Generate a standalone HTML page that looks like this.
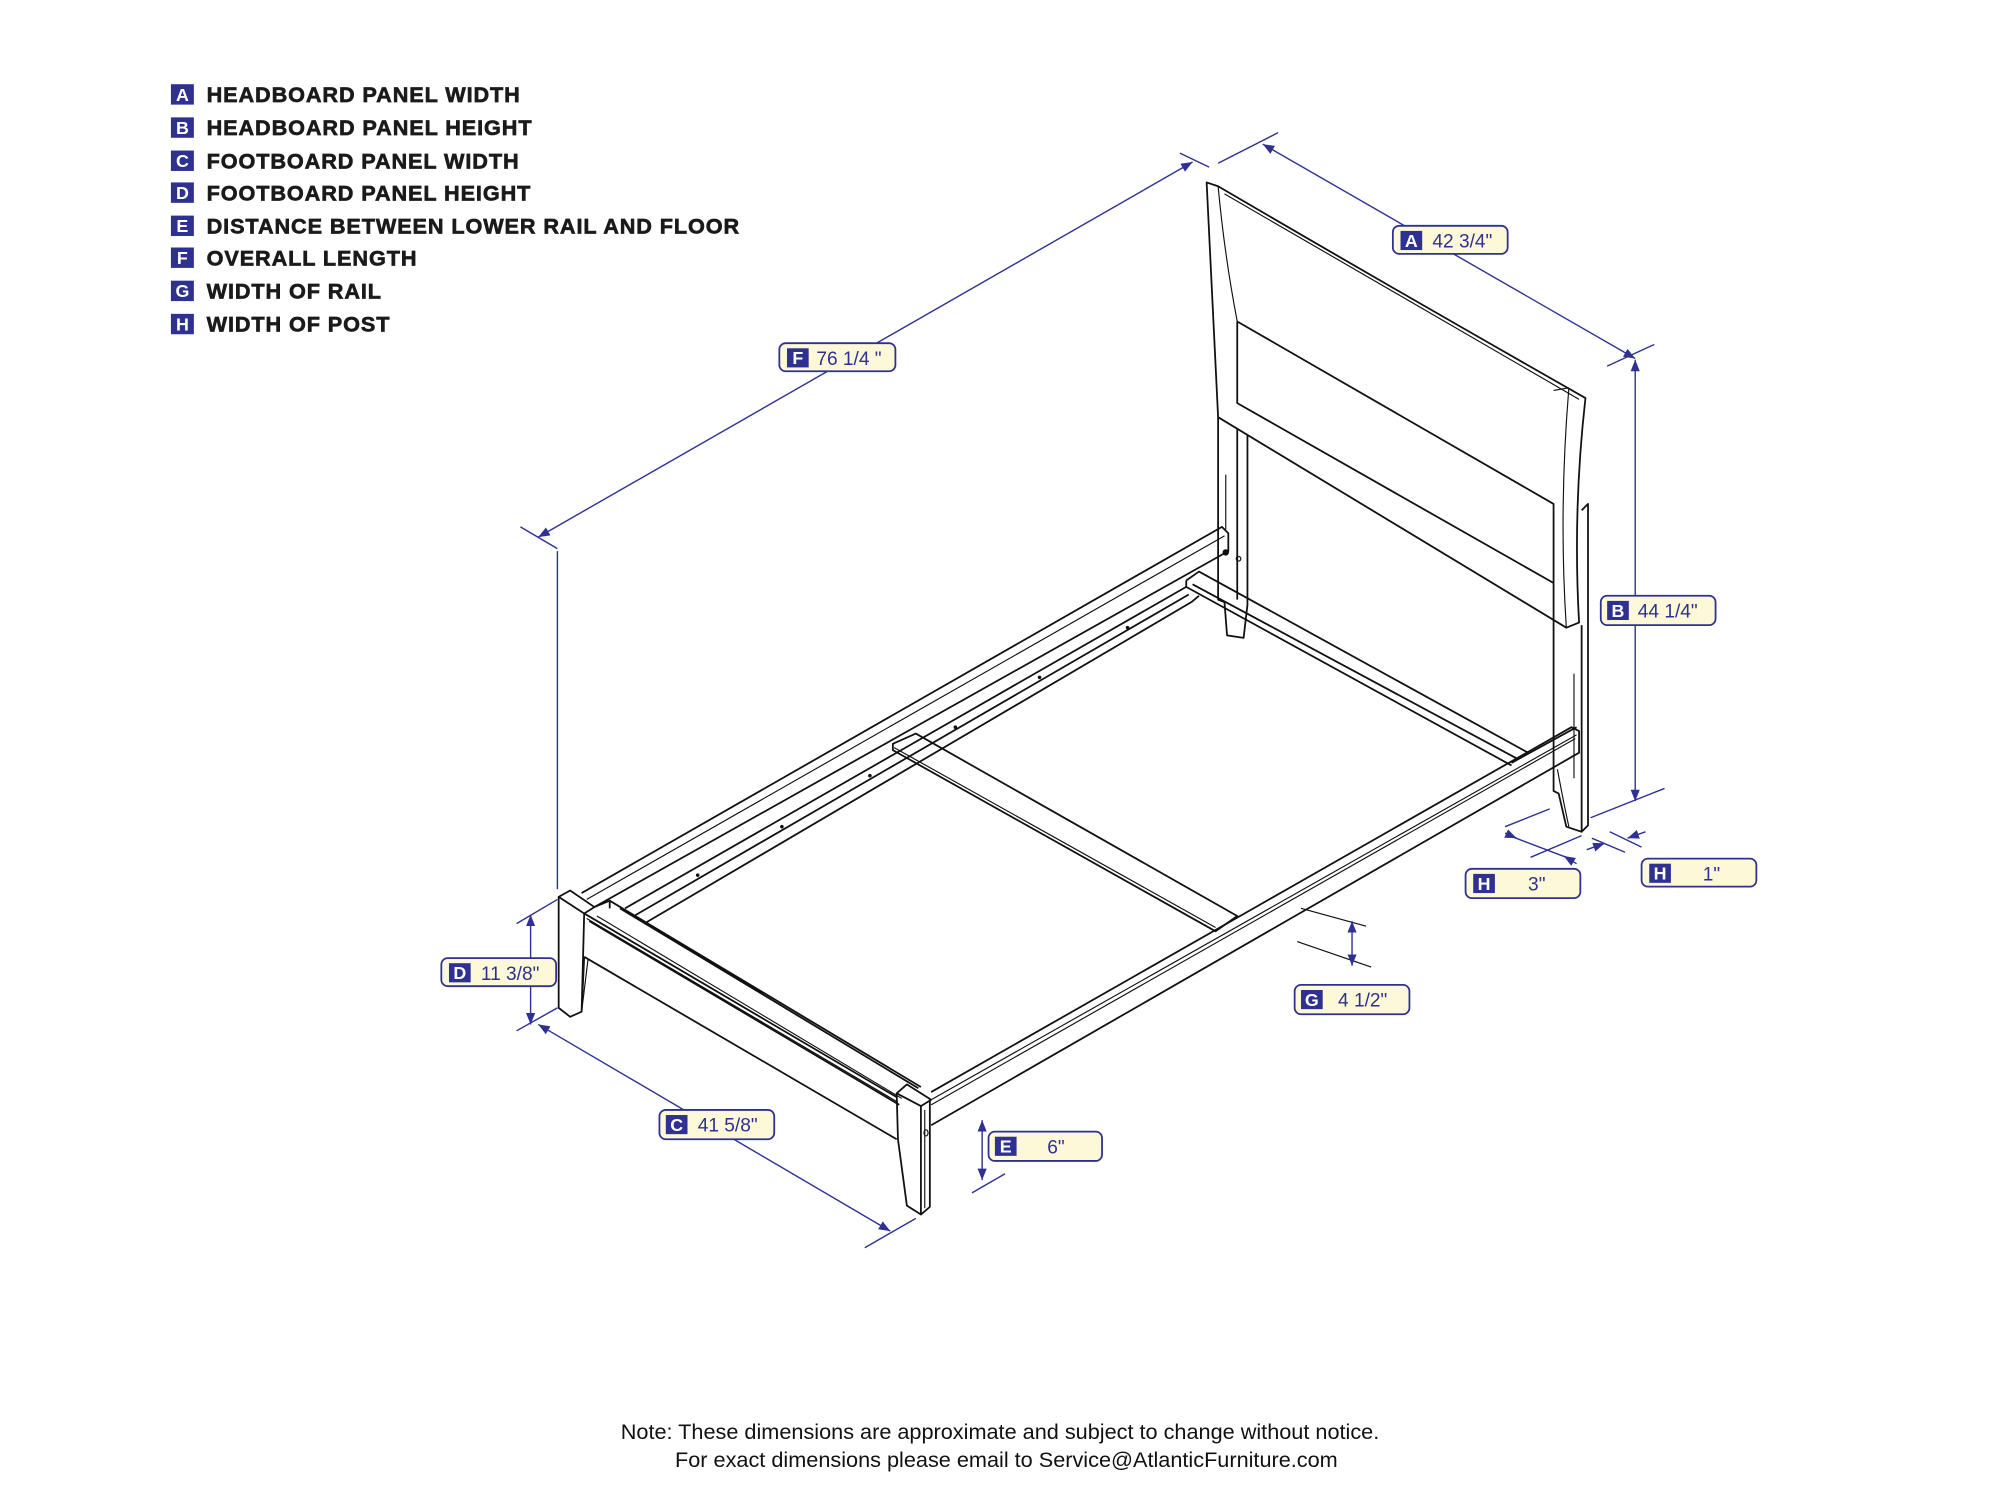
<!DOCTYPE html>
<html><head><meta charset="utf-8"><style>
html,body{margin:0;padding:0;background:#fff;width:2000px;height:1485px;overflow:hidden}
svg{display:block}
.l{fill:none;stroke:#111;stroke-width:1.4;stroke-linejoin:round}
.t{fill:none;stroke:#111;stroke-width:0.9}
.d{fill:none;stroke:#2e3192;stroke-width:1.1}
.leg{font-family:"Liberation Sans",sans-serif;font-weight:bold;font-size:17px;letter-spacing:0.7px;fill:#1a1a1a;stroke:#1a1a1a;stroke-width:0.5}
.lb{fill:#fdf8d8;stroke:#2e3192;stroke-width:1.4}
.lt{font-family:"Liberation Sans",sans-serif;font-size:15px;fill:#2e3192}
.sq{fill:#2e3192}
.sl{font-family:"Liberation Sans",sans-serif;font-weight:bold;font-size:14px;fill:#fff}
.note{font-family:"Liberation Sans",sans-serif;font-size:17px;fill:#111}
</style></head><body>
<svg width="2000" height="1485" viewBox="0 0 1568 1164" preserveAspectRatio="none" xmlns="http://www.w3.org/2000/svg">
<defs>
<marker id="a" viewBox="0 0 10 10" refX="10" refY="5" markerWidth="9" markerHeight="9" orient="auto-start-reverse" markerUnits="userSpaceOnUse"><path d="M0,1 L10,5 L0,9 z" fill="#2e3192"/></marker>
</defs>
<g>
<rect class="sq" x="134" y="66" width="18" height="16"/><text class="sl" x="143" y="79" text-anchor="middle">A</text><text class="leg" x="162" y="80">HEADBOARD PANEL WIDTH</text>
<rect class="sq" x="134" y="92" width="18" height="16"/><text class="sl" x="143" y="105" text-anchor="middle">B</text><text class="leg" x="162" y="106">HEADBOARD PANEL HEIGHT</text>
<rect class="sq" x="134" y="118" width="18" height="16"/><text class="sl" x="143" y="131" text-anchor="middle">C</text><text class="leg" x="162" y="132">FOOTBOARD PANEL WIDTH</text>
<rect class="sq" x="134" y="143" width="18" height="16"/><text class="sl" x="143" y="156" text-anchor="middle">D</text><text class="leg" x="162" y="157">FOOTBOARD PANEL HEIGHT</text>
<rect class="sq" x="134" y="169" width="18" height="16"/><text class="sl" x="143" y="182" text-anchor="middle">E</text><text class="leg" x="162" y="183">DISTANCE BETWEEN LOWER RAIL AND FLOOR</text>
<rect class="sq" x="134" y="194" width="18" height="16"/><text class="sl" x="143" y="207" text-anchor="middle">F</text><text class="leg" x="162" y="208">OVERALL LENGTH</text>
<rect class="sq" x="134" y="220" width="18" height="16"/><text class="sl" x="143" y="233" text-anchor="middle">G</text><text class="leg" x="162" y="234">WIDTH OF RAIL</text>
<rect class="sq" x="134" y="246" width="18" height="16"/><text class="sl" x="143" y="259" text-anchor="middle">H</text><text class="leg" x="162" y="260">WIDTH OF POST</text>
</g>

<g>
<path class="l" d="M946,143 L955,146 Q1090,225 1243,312 Q1233,400 1238,488 L1228,492 L955,327 Q950,230 946,143 Z" fill="#fff"/>
<path class="t" d="M955,146 Q960,200 970,252 M1228,492 Q1222,400 1230,304 M1218,306 L1230,304"/>
<path class="l" d="M970,252 L1218,395 L1218,488 M970,252 L970,316 L1218,457"/>
<path class="t" d="M960,152 Q1090,228 1238,313"/>
<path class="l" d="M955,327 L955,470 L960,472 L962,498 L975,500 L978,474 L978,341"/>
<path class="l" d="M970,336 L970,470"/>
<path class="t" d="M961,372 L961,415"/>
<circle cx="961" cy="433" r="2.5" fill="#111"/><circle cx="971" cy="438" r="1.8" class="t"/>
<path class="l" d="M1218,488 L1218,620 L1222,622 L1228,648 L1240,652 L1240,490"/>
<path class="l" d="M1240,400 L1245,395 L1245,647 L1240,652"/>
<path class="t" d="M1234,528 L1234,610"/>
<path class="l" d="M930,455 L940,448 L1198,590 M930,455 L930,460 L1185,600 M935,458 L1190,595"/>
</g>

<g>
<path class="l" d="M456,700 L958,413 L963,418 L963,432 L466,711"/>
<path class="t" d="M460,705 L960,420"/>
<path class="l" d="M490,712 L930,460 M497,718 L932,466 M505,724 L934,472 L940,467"/>
<circle cx="547" cy="686" r="1.4" fill="#111"/><circle cx="613" cy="648" r="1.4" fill="#111"/><circle cx="682" cy="608" r="1.4" fill="#111"/><circle cx="749" cy="570" r="1.4" fill="#111"/><circle cx="815" cy="531" r="1.4" fill="#111"/><circle cx="884" cy="492" r="1.4" fill="#111"/>
</g>

<path class="l" d="M700,583 L718,575 L970,718 L953,730 L700,588 Z" fill="#fff"/>
<path class="t" d="M701,586 L953,727"/>

<g>
<path class="l" d="M730,856 L1232,570 L1238,573 L1238,590 L730,882"/>
<path class="t" d="M730,862 L1236,576 M730,866 L1235,579"/>
<path class="l" d="M1185,598 L1236,570"/>
<path class="t" d="M1221,603 Q1226,630 1230,648"/>
<path class="t" d="M1020,712 L1071,726 M1017,738 L1075,758"/>
</g>

<g>
<path class="l" d="M466,711 L478,706 L722,852 M458,716 L703,860 M462,722 L705,866 M478,706 L478,712 M486,712 L720,853"/>
<path class="t" d="M460,720 L704,864 M468,718 L707,861"/>
<path class="l" d="M458,750 L703,893"/>
<path class="l" d="M438,703 L447,698 L466,711 L458,716 Z" fill="#fff"/>
<path class="l" d="M438,703 L438,790 L447,797 L456,793 L458,716 M456,793 L458,750"/>
<path class="t" d="M461,752 L456,793"/>
<path class="l" d="M703,857 L711,850 L730,862 L722,867 Z" fill="#fff"/>
<path class="l" d="M703,857 L704,893 L711,945 L722,952 L729,946 L729,862 M722,867 L722,952"/>
<path class="t" d="M725,870 L725,947"/>
<ellipse cx="726" cy="888" rx="1.6" ry="2.4" class="t"/>
</g>

<g>
<path class="d" d="M408,413 L437,430 M925,120 L948,131"/>
<path class="d" d="M422,421 L935,127" marker-start="url(#a)" marker-end="url(#a)"/>
<path class="d" d="M437,432 L437,697"/>
<path class="d" d="M955,128 L1002,104 M1260,287 L1297,270"/>
<path class="d" d="M990,113 L1282,281" marker-start="url(#a)" marker-end="url(#a)"/>
<path class="d" d="M1282,282 L1282,628" marker-start="url(#a)" marker-end="url(#a)"/>
<path class="d" d="M1247,641 L1305,618"/>
<path class="d" d="M1180,648 L1215,634 M1200,672 L1240,655 M1186,656 L1228,672"/>
<path class="d" d="M1180,653 L1189,657" marker-end="url(#a)"/>
<path class="d" d="M1236,677 L1226,671" marker-end="url(#a)"/>
<path class="d" d="M1248,657 L1274,668 M1262,652 L1287,664"/>
<path class="d" d="M1244,666 L1258,661" marker-end="url(#a)"/>
<path class="d" d="M1290,652 L1276,657" marker-end="url(#a)"/>
<path class="d" d="M1060,722 L1060,757" marker-start="url(#a)" marker-end="url(#a)"/>
<path class="d" d="M405,724 L437,705 M405,808 L437,790"/>
<path class="d" d="M416,717 L416,803" marker-start="url(#a)" marker-end="url(#a)"/>
<path class="d" d="M678,978 L718,955"/>
<path class="d" d="M422,803 L698,965" marker-start="url(#a)" marker-end="url(#a)"/>
<path class="d" d="M770,878 L770,925" marker-start="url(#a)" marker-end="url(#a)"/>
<path class="d" d="M762,935 L788,920"/>
</g>

<g>
<rect class="lb" x="611" y="269" width="91" height="22" rx="5"/><rect class="sq" x="617" y="273" width="17" height="15"/><text class="sl" x="625.5" y="285.5" text-anchor="middle">F</text><text class="lt" x="640" y="286">76 1/4 "</text>
<rect class="lb" x="1092" y="177" width="90" height="22" rx="5"/><rect class="sq" x="1098" y="181" width="17" height="15"/><text class="sl" x="1106.5" y="193.5" text-anchor="middle">A</text><text class="lt" x="1123" y="194">42 3/4"</text>
<rect class="lb" x="1255" y="467" width="90" height="23" rx="5"/><rect class="sq" x="1260" y="471" width="17" height="15"/><text class="sl" x="1268.5" y="483.5" text-anchor="middle">B</text><text class="lt" x="1284" y="484">44 1/4"</text>
<rect class="lb" x="1149" y="681" width="90" height="23" rx="5"/><rect class="sq" x="1155" y="685" width="17" height="15"/><text class="sl" x="1163.5" y="697.5" text-anchor="middle">H</text><text class="lt" x="1198" y="698">3"</text>
<rect class="lb" x="1287" y="673" width="90" height="22" rx="5"/><rect class="sq" x="1293" y="677" width="17" height="15"/><text class="sl" x="1301.5" y="689.5" text-anchor="middle">H</text><text class="lt" x="1335" y="690">1"</text>
<rect class="lb" x="1015" y="772" width="90" height="23" rx="5"/><rect class="sq" x="1020" y="776" width="17" height="15"/><text class="sl" x="1028.5" y="788.5" text-anchor="middle">G</text><text class="lt" x="1049" y="789">4 1/2"</text>
<rect class="lb" x="346" y="751" width="90" height="22" rx="5"/><rect class="sq" x="352" y="755" width="17" height="15"/><text class="sl" x="360.5" y="767.5" text-anchor="middle">D</text><text class="lt" x="377" y="768">11 3/8"</text>
<rect class="lb" x="517" y="870" width="90" height="23" rx="5"/><rect class="sq" x="522" y="874" width="17" height="15"/><text class="sl" x="530.5" y="886.5" text-anchor="middle">C</text><text class="lt" x="547" y="887">41 5/8"</text>
<rect class="lb" x="775" y="887" width="89" height="23" rx="5"/><rect class="sq" x="780" y="891" width="17" height="15"/><text class="sl" x="788.5" y="903.5" text-anchor="middle">E</text><text class="lt" x="821" y="904">6"</text>
</g>

<text class="note" x="784" y="1128" text-anchor="middle">Note:  These dimensions are approximate and subject to change without notice.</text>
<text class="note" x="789" y="1150" text-anchor="middle">For exact dimensions please email to Service@AtlanticFurniture.com</text>
</svg>
</body></html>
